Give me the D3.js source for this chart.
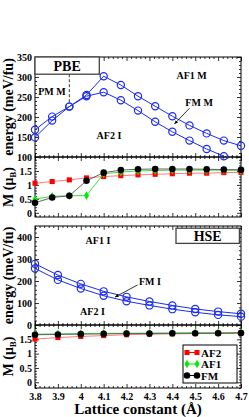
<!DOCTYPE html>
<html>
<head>
<meta charset="utf-8">
<script src="https://cdnjs.cloudflare.com/ajax/libs/d3/7.8.5/d3.min.js"></script>
<style>
body { margin: 0; background: #fff; }
svg { display: block; }
text { font-family: "Liberation Serif", "DejaVu Serif", serif; font-weight: bold; }
</style>
</head>
<body>
<div id="chart"></div>
<script>
// data

var pbeLattice = [3.8, 3.875, 3.95, 4.025, 4.1, 4.175, 4.25, 4.325, 4.4, 4.475, 4.55, 4.625, 4.7];
var pbeUpper = [168, 201, 226, 255, 302, 280, 252, 227, 202, 179, 159, 141, 128];
var pbeLower = [149, 191, 226, 252, 262, 242, 216, 188, 163, 141, 120, 102];
var pbeAF2 = [1.06, 1.12, 1.18, 1.25, 1.30, 1.33, 1.36, 1.38, 1.40, 1.42, 1.42, 1.44, 1.45];
var pbeAF1 = [0.49, 0.59, 0.61, 0.62, 1.40, 1.46, 1.50, 1.52, 1.53, 1.53, 1.53, 1.53, 1.52];
var pbeFM = [0.36, 0.55, 0.61, 1.15, 1.44, 1.53, 1.56, 1.57, 1.57, 1.57, 1.56, 1.55, 1.54];

var hseLattice = [3.8, 3.9, 4.0, 4.1, 4.2, 4.3, 4.4, 4.5, 4.6, 4.7];
var hseUpper = [278, 227, 187, 153, 128, 107, 89, 73, 61, 51];
var hseLower = [257, 205, 166, 133, 108, 89, 72, 58, 46, 38];
var hseAF2 = [1.51, 1.56, 1.60, 1.63, 1.66, 1.68, 1.69, 1.70, 1.71, 1.72];
var hseAF1 = [1.68, 1.69, 1.70, 1.71, 1.71, 1.72, 1.72, 1.73, 1.73, 1.74];
var hseFM = [1.66, 1.67, 1.68, 1.69, 1.70, 1.70, 1.71, 1.71, 1.71, 1.72];

var xTicks = [3.8, 3.9, 4, 4.1, 4.2, 4.3, 4.4, 4.5, 4.6, 4.7];
var pbeEnergyTicks = [100, 150, 200, 250, 300, 350];
var hseEnergyTicks = [0, 100, 200, 300, 400];
var momentTicks = [0, 0.5, 1, 1.5];
var legendNames = ["AF2", "AF1", "FM"];

// defaults

var width = 249,
    height = 417,
    plotLeft = 35,
    plotRight = 241,
    blue = "#1c2cf0",
    fontFamily = "'Liberation Serif', 'DejaVu Serif', serif";

var svg = d3.select("#chart")
    .append("svg")
    .attr("width", width)
    .attr("height", height);

var x = d3.scaleLinear().domain([3.8, 4.7]).range([plotLeft, plotRight]);

var panels = [
    { top: 57, bottom: 157, domain: [100, 350], ticks: pbeEnergyTicks, minor: 10, title: "energy" },
    { top: 157, bottom: 217, domain: [-0.15, 2], ticks: momentTicks, minor: 0.1, title: "moment" },
    { top: 226, bottom: 325, domain: [0, 450], ticks: hseEnergyTicks, minor: 20, title: "energy" },
    { top: 325, bottom: 388, domain: [-0.2, 2], ticks: momentTicks, minor: 0.1, title: "moment", xLabels: true }
];

function minorValues(domain, step, majors) {
    var out = [];
    var start = Math.ceil(domain[0] / step - 1e-6);
    for (var k = start; k * step <= domain[1] + 1e-6; k++) {
        var v = +(k * step).toFixed(4);
        if (majors.indexOf(v) < 0) out.push(v);
    }
    return out;
}

var xMinor = minorValues([3.8, 4.7], 0.02, xTicks);

function styleAxis(g) {
    g.select(".domain").remove();
    g.selectAll("line").attr("stroke", "#000").attr("stroke-width", 0.8);
    g.selectAll("text")
        .attr("font-family", fontFamily)
        .attr("font-weight", "bold")
        .attr("font-size", 10)
        .attr("fill", "#000");
}

panels.forEach(function (p) {
    p.y = d3.scaleLinear().domain(p.domain).range([p.bottom, p.top]);
    var yMinor = minorValues(p.domain, p.minor, p.ticks);
    var fmt = function (d) { return String(d); };

    // major + minor ticks, all pointing inwards
    svg.append("g").attr("transform", "translate(" + plotLeft + ",0)")
        .call(d3.axisLeft(p.y).tickValues(p.ticks).tickSize(-4).tickPadding(3).tickFormat(fmt))
        .call(styleAxis);
    svg.append("g").attr("transform", "translate(" + plotLeft + ",0)")
        .call(d3.axisLeft(p.y).tickValues(yMinor).tickSize(-2).tickFormat(""))
        .call(styleAxis);
    svg.append("g").attr("transform", "translate(" + plotRight + ",0)")
        .call(d3.axisRight(p.y).tickValues(p.ticks).tickSize(-4).tickFormat(""))
        .call(styleAxis);
    svg.append("g").attr("transform", "translate(" + plotRight + ",0)")
        .call(d3.axisRight(p.y).tickValues(yMinor).tickSize(-2).tickFormat(""))
        .call(styleAxis);

    svg.append("g").attr("transform", "translate(0," + p.bottom + ")")
        .call(d3.axisBottom(x).tickValues(xTicks).tickSize(-4).tickPadding(5)
            .tickFormat(p.xLabels ? fmt : ""))
        .call(styleAxis);
    svg.append("g").attr("transform", "translate(0," + p.bottom + ")")
        .call(d3.axisBottom(x).tickValues(xMinor).tickSize(-2).tickFormat(""))
        .call(styleAxis);
    svg.append("g").attr("transform", "translate(0," + p.top + ")")
        .call(d3.axisTop(x).tickValues(xTicks).tickSize(-4).tickFormat(""))
        .call(styleAxis);
    svg.append("g").attr("transform", "translate(0," + p.top + ")")
        .call(d3.axisTop(x).tickValues(xMinor).tickSize(-2).tickFormat(""))
        .call(styleAxis);

    svg.append("rect")
        .attr("x", plotLeft)
        .attr("y", p.top)
        .attr("width", plotRight - plotLeft)
        .attr("height", p.bottom - p.top)
        .attr("fill", "none")
        .attr("stroke", "#000")
        .attr("stroke-width", 1);

    // y title
    var cy = (p.top + p.bottom) / 2;
    var t = svg.append("text")
        .attr("transform", "translate(13," + cy + ") rotate(-90)")
        .attr("text-anchor", "middle")
        .attr("font-size", 14);
    if (p.title === "energy") {
        t.text("energy (meV/fu)");
    } else {
        t.append("tspan").text("M (\u03bc");
        t.append("tspan").attr("font-size", 9).attr("dy", 3).text("B");
        t.append("tspan").attr("dy", -3).text(")");
    }
});

var pE = panels[0], pM = panels[1], hE = panels[2], hM = panels[3];

// energy curves
function energyCurve(lattice, values, y) {
    var pts = values.map(function (v, i) { return [lattice[i], v]; });
    svg.append("path")
        .datum(pts)
        .attr("fill", "none")
        .attr("stroke", blue)
        .attr("stroke-width", 1)
        .attr("d", d3.line().x(function (d) { return x(d[0]); }).y(function (d) { return y(d[1]); }));
    svg.append("g").selectAll("circle")
        .data(pts)
        .enter()
        .append("circle")
        .attr("cx", function (d) { return x(d[0]); })
        .attr("cy", function (d) { return y(d[1]); })
        .attr("r", 3.6)
        .attr("fill", "none")
        .attr("stroke", blue)
        .attr("stroke-width", 1.2);
}

energyCurve(pbeLattice, pbeUpper, pE.y);
energyCurve(pbeLattice, pbeLower, pE.y);
energyCurve(hseLattice, hseUpper, hE.y);
energyCurve(hseLattice, hseLower, hE.y);

// moment curves
var momentStyles = {
    AF2: { line: "#ff6b6b", fill: "#ff0000", shape: d3.symbolSquare, size: 26 },
    AF1: { line: "#22dd22", fill: "#00ee00", shape: d3.symbolDiamond, size: 22 },
    FM: { line: "#555555", fill: "#000000", shape: d3.symbolCircle, size: 34 }
};

function momentCurve(lattice, values, y, name) {
    var s = momentStyles[name];
    var pts = values.map(function (v, i) { return [lattice[i], v]; });
    svg.append("path")
        .datum(pts)
        .attr("fill", "none")
        .attr("stroke", s.line)
        .attr("stroke-width", 0.9)
        .attr("d", d3.line().x(function (d) { return x(d[0]); }).y(function (d) { return y(d[1]); }));
    svg.append("g").selectAll("path")
        .data(pts)
        .enter()
        .append("path")
        .attr("transform", function (d) { return "translate(" + x(d[0]) + "," + y(d[1]) + ")"; })
        .attr("d", d3.symbol().type(s.shape).size(s.size))
        .attr("fill", s.fill);
}

momentCurve(pbeLattice, pbeAF2, pM.y, "AF2");
momentCurve(pbeLattice, pbeAF1, pM.y, "AF1");
momentCurve(pbeLattice, pbeFM, pM.y, "FM");
momentCurve(hseLattice, hseAF2, hM.y, "AF2");
momentCurve(hseLattice, hseAF1, hM.y, "AF1");
momentCurve(hseLattice, hseFM, hM.y, "FM");

// annotations
svg.append("defs").append("marker")
    .attr("id", "arrow")
    .attr("viewBox", "0 0 10 10")
    .attr("refX", 9)
    .attr("refY", 5)
    .attr("markerWidth", 5)
    .attr("markerHeight", 5)
    .attr("orient", "auto")
    .append("path")
    .attr("d", "M0,1 L10,5 L0,9 z")
    .attr("fill", "#000");

function label(txt, lx, ly, y, size) {
    svg.append("text")
        .attr("x", x(lx))
        .attr("y", y(ly))
        .attr("text-anchor", "middle")
        .attr("font-size", size || 10)
        .text(txt);
}

function boxLabel(txt, x0, x1, y0, y1, y) {
    svg.append("rect")
        .attr("x", x(x0))
        .attr("y", y(y0))
        .attr("width", x(x1) - x(x0))
        .attr("height", y(y1) - y(y0))
        .attr("fill", "#fff")
        .attr("stroke", "#444")
        .attr("stroke-width", 1.3);
    svg.append("text")
        .attr("x", (x(x0) + x(x1)) / 2)
        .attr("y", (y(y0) + y(y1)) / 2 + 5)
        .attr("text-anchor", "middle")
        .attr("font-size", 14)
        .text(txt);
}

// PBE panel
svg.append("line")
    .attr("x1", x(3.95)).attr("x2", x(3.95))
    .attr("y1", pE.y(307)).attr("y2", pE.y(226) - 3.6)
    .attr("stroke", "#000")
    .attr("stroke-width", 0.8)
    .attr("stroke-dasharray", "3,2");
boxLabel("PBE", 3.8, 4.081, 350, 307, pE.y);
label("PM M", 3.874, 255, pE.y);
label("AF1 M", 4.484, 295, pE.y);
label("FM M", 4.517, 227, pE.y);
label("AF2 I", 4.123, 145, pE.y);
svg.append("line")
    .attr("x1", x(4.475)).attr("y1", pE.y(222))
    .attr("x2", x(4.41)).attr("y2", pE.y(183))
    .attr("stroke", "#000")
    .attr("stroke-width", 0.8)
    .attr("marker-end", "url(#arrow)");

// HSE panel
boxLabel("HSE", 4.416, 4.693, 440, 371, hE.y);
label("AF1 I", 4.075, 368, hE.y);
label("FM I", 4.302, 184, hE.y);
label("AF2 I", 4.051, 45, hE.y);
svg.append("line")
    .attr("x1", x(4.248)).attr("y1", hE.y(182))
    .attr("x2", x(4.15)).attr("y2", hE.y(127))
    .attr("stroke", "#000")
    .attr("stroke-width", 0.8)
    .attr("marker-end", "url(#arrow)");

// legend
var legend = svg.append("g").attr("transform", "translate(183,345)");
legend.append("rect")
    .attr("width", 54)
    .attr("height", 38)
    .attr("fill", "#fff")
    .attr("stroke", "#000")
    .attr("stroke-width", 1);
legendNames.forEach(function (name, i) {
    var s = momentStyles[name];
    var ly = 7.5 + i * 11.5;
    legend.append("line")
        .attr("x1", 4).attr("x2", 14)
        .attr("y1", ly).attr("y2", ly)
        .attr("stroke", s.fill)
        .attr("stroke-width", 1);
    [4, 14].forEach(function (lx) {
        legend.append("path")
            .attr("transform", "translate(" + lx + "," + ly + ")")
            .attr("d", d3.symbol().type(s.shape).size(s.size))
            .attr("fill", s.fill);
    });
    legend.append("text")
        .attr("x", 18)
        .attr("y", ly + 4)
        .attr("font-size", 11)
        .text(name);
});

// x title
svg.append("text")
    .attr("x", (plotLeft + plotRight) / 2)
    .attr("y", 414)
    .attr("text-anchor", "middle")
    .attr("font-size", 15)
    .text("Lattice constant (\u00c5)");
</script>
</body>
</html>
